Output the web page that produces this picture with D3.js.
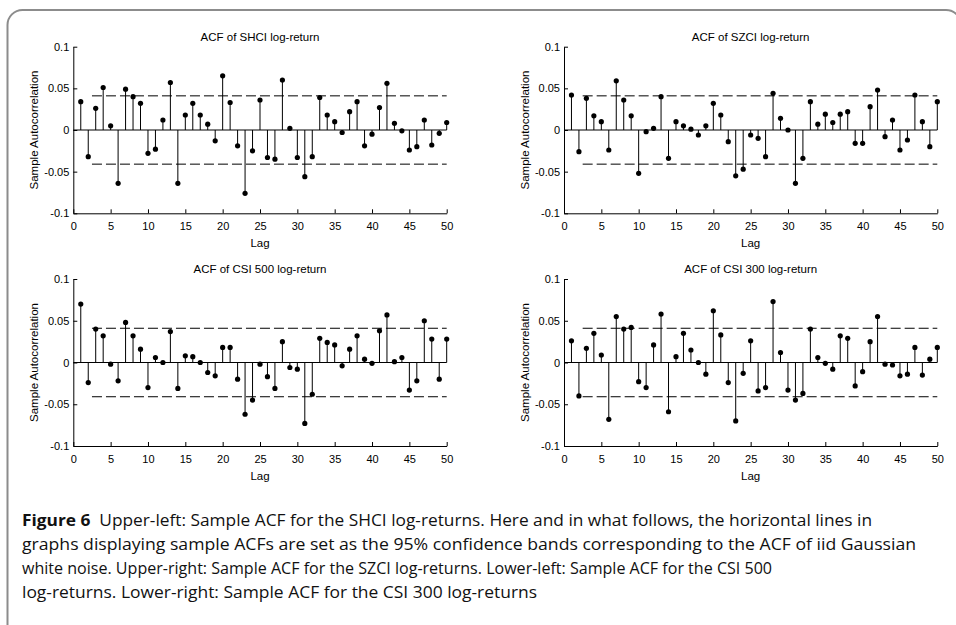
<!DOCTYPE html>
<html>
<head>
<meta charset="utf-8">
<script src="https://cdn.jsdelivr.net/npm/d3@7"></script>
<style>
  body { margin: 0; background: #fff; }
  svg { display: block; }
</style>
</head>
<body>
<div id="chart"></div>
<script>
// sample ACF values, lags 1..50
const shciAcf = [0.034, -0.032, 0.026, 0.051, 0.005, -0.064, 0.049, 0.040, 0.032, -0.028,
  -0.023, 0.012, 0.057, -0.064, 0.018, 0.032, 0.018, 0.007, -0.013, 0.065,
  0.033, -0.019, -0.076, -0.025, 0.036, -0.033, -0.035, 0.060, 0.002, -0.033,
  -0.056, -0.032, 0.039, 0.018, 0.010, -0.003, 0.022, 0.034, -0.019, -0.005,
  0.027, 0.056, 0.008, -0.001, -0.024, -0.020, 0.012, -0.018, -0.004, 0.009];
const szciAcf = [0.042, -0.026, 0.038, 0.017, 0.010, -0.024, 0.059, 0.036, 0.017, -0.052,
  -0.002, 0.002, 0.040, -0.034, 0.010, 0.005, 0.001, -0.006, 0.005, 0.032,
  0.018, -0.014, -0.055, -0.047, -0.006, -0.010, -0.032, 0.044, 0.014, 0.000,
  -0.064, -0.034, 0.034, 0.007, 0.019, 0.009, 0.019, 0.022, -0.016, -0.016,
  0.028, 0.048, -0.008, 0.012, -0.024, -0.012, 0.042, 0.010, -0.020, 0.034];
const csi500Acf = [0.070, -0.024, 0.040, 0.032, -0.002, -0.022, 0.048, 0.032, 0.016, -0.030,
  0.006, 0.000, 0.037, -0.031, 0.008, 0.007, 0.000, -0.012, -0.016, 0.018,
  0.018, -0.020, -0.062, -0.045, -0.002, -0.017, -0.031, 0.025, -0.006, -0.008,
  -0.073, -0.038, 0.029, 0.024, 0.021, -0.004, 0.016, 0.032, 0.004, -0.001,
  0.038, 0.057, 0.001, 0.006, -0.033, -0.022, 0.050, 0.028, -0.020, 0.028];
const csi300Acf = [0.026, -0.040, 0.017, 0.035, 0.009, -0.068, 0.055, 0.040, 0.042, -0.023,
  -0.030, 0.021, 0.058, -0.059, 0.007, 0.035, 0.015, 0.000, -0.014, 0.062,
  0.033, -0.024, -0.070, -0.013, 0.026, -0.034, -0.030, 0.073, 0.012, -0.033,
  -0.045, -0.037, 0.040, 0.006, -0.001, -0.008, 0.032, 0.029, -0.028, -0.011,
  0.025, 0.055, -0.002, -0.003, -0.016, -0.014, 0.018, -0.015, 0.004, 0.018];

const panelTitles = ["ACF of SHCI log-return", "ACF of SZCI log-return",
  "ACF of CSI 500 log-return", "ACF of CSI 300 log-return"];
const confBound = 0.041;
const xTicks = [0, 5, 10, 15, 20, 25, 30, 35, 40, 45, 50];
const yTicks = [0.1, 0.05, 0, -0.05, -0.1];
const yTickLabels = ["0.1", "0.05", "0", "-0.05", "-0.1"];
const captionLines = [
  ["Figure 6", "  Upper-left: Sample ACF for the SHCI log-returns. Here and in what follows, the horizontal lines in"],
  ["", "graphs displaying sample ACFs are set as the 95% confidence bands corresponding to the ACF of iid Gaussian"],
  ["", "white noise. Upper-right: Sample ACF for the SZCI log-returns. Lower-left: Sample ACF for the CSI 500"],
  ["", "log-returns. Lower-right: Sample ACF for the CSI 300 log-returns"]
];

const W = 956, H = 625;
const font = "'Liberation Sans', Arial, sans-serif";

const svg = d3.select("#chart").append("svg")
  .attr("width", W).attr("height", H);

// figure box
svg.append("path")
  .attr("d", `M7.5,${H} V25 A15,15 0 0 1 22.5,10 H946 A15,15 0 0 1 961,25 V${H}`)
  .attr("fill", "none")
  .attr("stroke", "#8c8c8c")
  .attr("stroke-width", 2);

const frames = [
  { x0: 73.3, x1: 446.7, y0: 46.7, y1: 213.3 },
  { x0: 564, x1: 937.3, y0: 46.7, y1: 213.3 },
  { x0: 73.3, x1: 446.7, y0: 279, y1: 446 },
  { x0: 564, x1: 937.3, y0: 279, y1: 446 }
];
const series = [shciAcf, szciAcf, csi500Acf, csi300Acf];

frames.forEach((f, i) => {
  const values = series[i];
  const x = d3.scaleLinear().domain([0, 50]).range([f.x0, f.x1]);
  const y = d3.scaleLinear().domain([-0.1, 0.1]).range([f.y1, f.y0]);
  const g = svg.append("g");

  // axes
  const yAxis = g.append("g")
    .attr("transform", `translate(${f.x0},0)`)
    .call(d3.axisLeft(y).tickValues(yTicks).tickSize(-4).tickSizeOuter(0)
      .tickPadding(4).tickFormat((d, k) => yTickLabels[k]));
  const xAxis = g.append("g")
    .attr("transform", `translate(0,${f.y1})`)
    .call(d3.axisBottom(x).tickValues(xTicks).tickSize(-4).tickSizeOuter(0)
      .tickPadding(9).tickFormat(d3.format("d")));
  [yAxis, xAxis].forEach(a => {
    a.attr("font-family", font).attr("font-size", 11);
    a.selectAll("path, line").attr("stroke", "#000");
    a.selectAll("text").attr("fill", "#000");
  });

  // zero line
  g.append("line")
    .attr("x1", x(0)).attr("x2", x(50))
    .attr("y1", y(0)).attr("y2", y(0))
    .attr("stroke", "#000");

  // confidence bands
  g.selectAll(".band").data([confBound, -confBound]).join("line")
    .attr("x1", x(2.5)).attr("x2", x(50))
    .attr("y1", d => y(d)).attr("y2", d => y(d))
    .attr("stroke", "#000")
    .attr("stroke-dasharray", "10,4");

  // stems
  g.selectAll(".stem").data(values).join("line")
    .attr("x1", (d, k) => x(k + 1)).attr("x2", (d, k) => x(k + 1))
    .attr("y1", y(0)).attr("y2", d => y(d))
    .attr("stroke", "#000");

  g.selectAll(".dot").data(values).join("circle")
    .attr("cx", (d, k) => x(k + 1))
    .attr("cy", d => y(d))
    .attr("r", 2.6)
    .attr("fill", "#000");

  // labels
  const cx = (f.x0 + f.x1) / 2;
  g.append("text")
    .attr("x", cx).attr("y", f.y0 - 6)
    .attr("text-anchor", "middle")
    .attr("font-family", font).attr("font-size", 11.5)
    .text(panelTitles[i]);
  g.append("text")
    .attr("x", cx).attr("y", f.y1 + 34)
    .attr("text-anchor", "middle")
    .attr("font-family", font).attr("font-size", 11.5)
    .text("Lag");
  g.append("text")
    .attr("transform", `translate(${f.x0 - 35},${(f.y0 + f.y1) / 2}) rotate(-90)`)
    .attr("text-anchor", "middle")
    .attr("font-family", font).attr("font-size", 11.5)
    .text("Sample Autocorrelation");
});

// caption
const lineWidths = [850, 894, 750, 515];
captionLines.forEach((parts, i) => {
  const t = svg.append("text")
    .attr("x", 22).attr("y", 526 + i * 24)
    .attr("font-family", "'Open Sans', 'Noto Sans', sans-serif")
    .attr("font-size", 16)
    .attr("fill", "#111")
    .attr("textLength", lineWidths[i])
    .attr("lengthAdjust", "spacingAndGlyphs")
    .attr("xml:space", "preserve");
  if (parts[0]) t.append("tspan").attr("font-weight", "bold").text(parts[0]);
  t.append("tspan").text(parts[1]);
});
</script>
</body>
</html>
